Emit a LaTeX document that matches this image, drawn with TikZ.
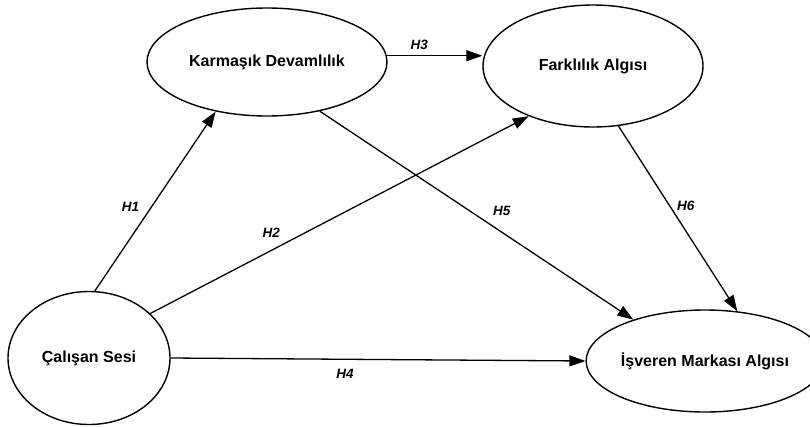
\documentclass[tikz,border=0pt]{standalone}
\usepackage{fontspec}
\setmainfont{Liberation Sans}
\usetikzlibrary{arrows.meta,positioning,shapes.geometric}

\tikzset{
  construct/.style={draw, ellipse, line width=1.4pt, inner sep=0pt,
                    font=\fontsize{16}{19}\selectfont\bfseries},
  link/.style={line width=1.3pt, arrows=-{Triangle[length=16pt,width=11pt]}},
  hyp/.style={font=\fontsize{13.5}{15}\selectfont\bfseries\itshape, inner sep=1pt}
}

\begin{document}
\begin{tikzpicture}[x=1pt, y=-1pt]
  \useasboundingbox (0,0) rectangle (810,426);

  % Construct nodes
  \node(voice)[construct, minimum width=162pt, minimum height=133pt] at (89,358) {Çalışan Sesi};
  \node(complex)[construct, minimum width=240pt, minimum height=108pt] at (267,62) {Karmaşık Devamlılık};
  \node(diff)[construct, minimum width=220pt, minimum height=122pt] at (593,66) {Farklılık Algısı};
  \node(brand)[construct, minimum width=208pt, minimum height=102pt] at (705,361) {İşveren Markası Algısı};

  % Hypothesis arrows
  \draw[link] (voice.85) -- node[hyp, pos=.47, left=11pt] {H1} (complex.224);
  \draw[link] (voice.36) -- node[hyp, pos=.32, above=11pt] {H2} (diff.218);
  \draw[link] (complex.3) -- node[hyp, pos=.34, above=4pt] {H3} (complex.3 -| diff.west);
  \draw[link] (voice.east) -- node[hyp, pos=.42, below=8pt] {H4} (brand.west);
  \draw[link] (complex.317) -- node[hyp, pos=.58, above=15pt] {H5} (brand.150);
  \draw[link] (diff.293) -- node[hyp, pos=.43, right=6pt] {H6} (brand.57);

\end{tikzpicture}
\end{document}
